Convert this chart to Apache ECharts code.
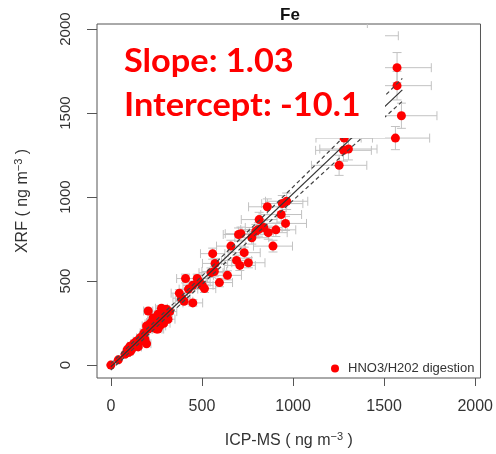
<!DOCTYPE html>
<html><head><meta charset="utf-8">
<script src="https://cdn.jsdelivr.net/npm/echarts@6/dist/echarts.min.js"></script>
<style>html,body{margin:0;padding:0;background:#fff}#c{width:496px;height:454px}</style>
</head><body><div id="c"></div>
<script>
// ICP-MS (x) vs XRF (y), ng m^-3
const xs = [1571,1571,1595,1562,1408,1281,1304,1277,1253,
  965,941,859,935,814,839,864,906,959,796,810,774,
  714,701,890,659,732,559,572,690,708,755,550,568,640,596,
  410,474,487,501,514,450,426,376,388,402,450,
  0,41,78,96,90,114,105,132,125,150,140,169,160,187,178,196,205,196,223,241,
  214,251,269,259,287,278,296,314,290,259,251,287,323,305,205,232,262,300,120,108,
  152,183,238,272,229];
const ys = [1770,1663,1484,1351,1960,1351,1286,1278,1189,
  975,961,942,896,866,819,788,805,843,797,807,758,
  782,777,708,708,669,663,605,623,593,609,550,557,534,491,
  515,515,494,475,455,475,452,428,398,380,370,
  0,31,65,75,92,95,112,115,128,108,142,144,162,154,176,127,214,233,253,243,
  245,214,233,214,273,338,293,273,249,303,273,330,318,332,322,280,262,310,102,82,
  132,192,222,300,262];
const xErr = [188,188,195,188,170,155,157,153,152,
  116,113,103,112,98,101,104,109,115,96,97,93,
  86,84,107,79,88,67,69,83,85,91,66,68,77,72,
  49,57,58,60,62,54,51,45,47,48,54,
  2,5,9,12,11,14,13,16,15,18,17,20,19,22,21,24,25,24,27,29,
  26,30,32,31,34,33,36,38,35,31,30,34,39,37,25,28,31,36,14,13,
  18,22,29,33,27];
const yErr = [90,85,75,69,98,68,65,64,60,
  49,48,47,45,43,41,39,40,42,40,40,38,
  39,39,35,35,33,33,30,31,30,30,28,28,27,25,
  26,26,25,24,23,24,23,21,20,19,19,
  2,2,3,4,5,5,6,6,6,5,7,7,8,8,9,6,11,12,13,12,
  12,11,12,11,14,17,15,14,12,15,14,17,16,17,16,14,13,16,5,4,
  7,10,11,15,13];
const xTicks = [0,500,1000,1500,2000];
const yTicks = [0,500,1000,1500,2000];
const slope = 1.03, intercept = -10.1;
const fitX = [0,1600];
const ciX = [0,400,800,1200,1600];
const ciUpper = [10,424,846,1274,1706];
const ciLower = [-30,380,782,1178,1570];
const seriesName = 'HNO3/H202 digestion';

const pts = xs.map((x,i)=>[x, ys[i]]);
const errs = xs.map((x,i)=>[x, ys[i], xErr[i], yErr[i]]);
const fitLine = fitX.map(x=>[x, slope*x+intercept]);
const up = ciX.map((x,i)=>[x, ciUpper[i]]);
const lo = ciX.map((x,i)=>[x, ciLower[i]]);
const FF = 'Liberation Sans, Arial, sans-serif';
const nameRich = {
  a:{fontSize:16,color:'#333',fontFamily:FF,verticalAlign:'bottom'},
  s:{fontSize:11,color:'#333',fontFamily:FF,verticalAlign:'bottom',padding:[0,0,7,0]}
};

const chart = echarts.init(document.getElementById('c'));
chart.setOption({
  animation:false,
  backgroundColor:'#fff',
  grid:{left:97,right:13,top:24,bottom:75,show:true,borderColor:'#555',borderWidth:1,backgroundColor:'transparent'},
  legend:{data:[{name:seriesName,icon:'circle'}],left:326,top:357,itemWidth:8,itemHeight:8,
    textStyle:{fontSize:13,color:'#333',fontFamily:FF,padding:[0,0,0,4]}},
  xAxis:{type:'value',min:-76,max:2029,splitLine:{show:false},
    axisLine:{show:false,onZero:false},
    axisTick:{show:true,customValues:xTicks,length:8,lineStyle:{color:'#555'}},
    axisLabel:{customValues:xTicks,formatter:v=>String(v),fontSize:16,color:'#333',margin:21,fontFamily:FF},
    name:'{a|ICP-MS ( ng m}{s|−3}{a| )}',nameLocation:'middle',nameGap:53,
    nameTextStyle:{fontSize:16,color:'#333',fontFamily:FF,rich:nameRich}},
  yAxis:{type:'value',min:-77,max:2030,splitLine:{show:false},
    axisLine:{show:false,onZero:false},
    axisTick:{show:true,customValues:yTicks,length:10,lineStyle:{color:'#555'}},
    axisLabel:{customValues:yTicks,formatter:v=>String(v),fontSize:15,color:'#333',margin:24,rotate:90,fontFamily:FF},
    name:'{a|XRF ( ng m}{s|−3}{a| )}',nameLocation:'middle',nameGap:66,
    nameTextStyle:{fontSize:16,color:'#333',fontFamily:FF,rich:nameRich}},
  series:[
    {type:'custom',clip:true,silent:true,z:1,data:errs,
      renderItem:function(params,api){
        const x=api.value(0),y=api.value(1),ex=api.value(2),ey=api.value(3);
        const l=api.coord([x-ex,y]),r=api.coord([x+ex,y]),t=api.coord([x,y+ey]),b=api.coord([x,y-ey]);
        const c=4.5, st={stroke:'#c2c2c2',lineWidth:1};
        return {type:'group',children:[
          {type:'line',shape:{x1:l[0],y1:l[1],x2:r[0],y2:r[1]},style:st},
          {type:'line',shape:{x1:l[0],y1:l[1]-c,x2:l[0],y2:l[1]+c},style:st},
          {type:'line',shape:{x1:r[0],y1:r[1]-c,x2:r[0],y2:r[1]+c},style:st},
          {type:'line',shape:{x1:t[0],y1:t[1],x2:b[0],y2:b[1]},style:st},
          {type:'line',shape:{x1:t[0]-c,y1:t[1],x2:t[0]+c,y2:t[1]},style:st},
          {type:'line',shape:{x1:b[0]-c,y1:b[1],x2:b[0]+c,y2:b[1]},style:st}
        ]};
      }},
    {type:'scatter',name:seriesName,data:pts,symbol:'circle',symbolSize:9,z:3,
      itemStyle:{color:'#ff0000',opacity:1}},
    {type:'line',data:fitLine,symbol:'none',z:4,lineStyle:{color:'#333',width:1.2}},
    {type:'line',data:up,symbol:'none',z:4,lineStyle:{color:'#444',width:1.2,type:[4,3]}},
    {type:'line',data:lo,symbol:'none',z:4,lineStyle:{color:'#444',width:1.2,type:[4,3]}}
  ],
  graphic:[
    {type:'rect',z:100,shape:{x:112,y:28,width:273,height:110},style:{fill:'#fff'}},
    {type:'text',z:101,x:124,y:61,scaleX:1.04,style:{text:'Slope: 1.03',font:'bold 33px Lato, sans-serif',fill:'#ff0000',verticalAlign:'middle',align:'left'}},
    {type:'text',z:101,x:124,y:105,scaleX:1.04,style:{text:'Intercept: -10.1',font:'bold 33px Lato, sans-serif',fill:'#ff0000',verticalAlign:'middle',align:'left'}},
    {type:'text',z:101,x:290,y:15,style:{text:'Fe',font:'bold 17px Liberation Sans, Arial, sans-serif',fill:'#111',verticalAlign:'middle',align:'center'}}
  ]
});
</script></body></html>
